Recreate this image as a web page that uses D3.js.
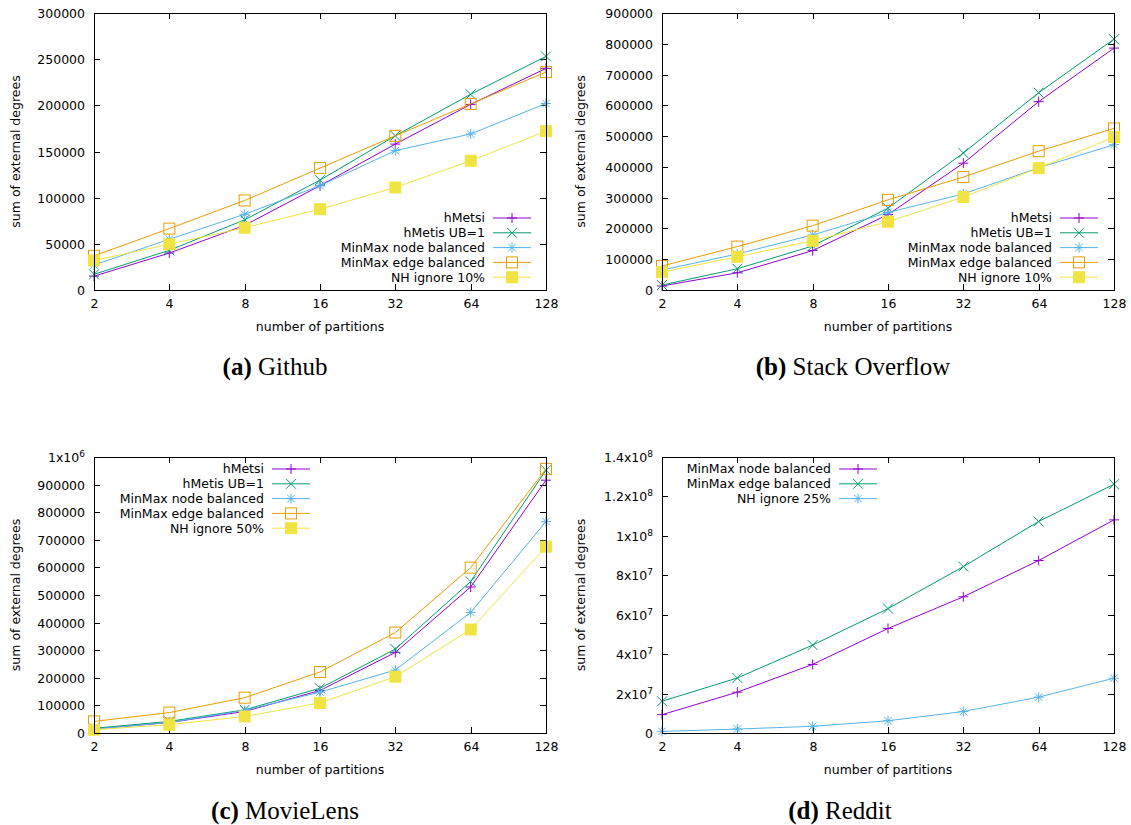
<!DOCTYPE html>
<html>
<head>
<meta charset="utf-8">
<script src="https://cdn.jsdelivr.net/npm/d3@7"></script>
<style>
  html, body { margin: 0; padding: 0; background: #fff; }
  svg { display: block; }
</style>
</head>
<body>
<svg id="chart" width="1131" height="825"></svg>
<script>
// ---------- data ----------
const partitions = [2, 4, 8, 16, 32, 64, 128];
const xTickLabels = ["2", "4", "8", "16", "32", "64", "128"];

// (a) Github
const githubHMetsi   = [15000, 40000, 70000, 113000, 158000, 201000, 240000];
const githubHMetisUB = [17000, 43000, 76000, 119000, 167000, 212000, 253000];
const githubNode     = [27000, 55000, 82000, 113000, 151000, 169000, 202000];
const githubEdge     = [37000, 66500, 97000, 132000, 167000, 201500, 236000];
const githubNH10     = [32000, 49500, 67500, 87500, 111000, 140000, 172000];
const githubYTicks   = [0, 50000, 100000, 150000, 200000, 250000, 300000];
const githubYLabels  = ["0", "50000", "100000", "150000", "200000", "250000", "300000"];

// (b) Stack Overflow
const stackHMetsi   = [13000, 56000, 128000, 245000, 412000, 612000, 786000];
const stackHMetisUB = [16000, 69000, 143000, 266000, 445000, 641000, 815000];
const stackNode     = [65000, 117000, 179000, 252000, 312000, 397000, 472000];
const stackEdge     = [78000, 141000, 209000, 293000, 367000, 451000, 525000];
const stackNH10     = [58000, 108000, 160000, 222000, 302000, 396000, 497000];
const stackYTicks   = [0, 100000, 200000, 300000, 400000, 500000, 600000, 700000, 800000, 900000];
const stackYLabels  = ["0", "100000", "200000", "300000", "400000", "500000", "600000", "700000", "800000", "900000"];

// (c) MovieLens
const movieHMetsi   = [15000, 38000, 78000, 154000, 292000, 529000, 916000];
const movieHMetisUB = [17000, 42000, 84000, 162000, 304000, 549000, 952000];
const movieNode     = [14000, 38000, 82000, 148000, 228000, 437000, 766000];
const movieEdge     = [42000, 74000, 128000, 221000, 364000, 599000, 957000];
const movieNH50     = [12000, 30000, 60000, 109000, 204000, 375000, 675000];
const movieYTicks   = [0, 100000, 200000, 300000, 400000, 500000, 600000, 700000, 800000, 900000, 1000000];
const movieYLabels  = ["0", "100000", "200000", "300000", "400000", "500000", "600000", "700000", "800000", "900000", "1x10^6"];

// (d) Reddit
const redditNode  = [9.3e6, 2.07e7, 3.48e7, 5.3e7, 6.91e7, 8.75e7, 1.081e8];
const redditEdge  = [1.61e7, 2.79e7, 4.46e7, 6.31e7, 8.44e7, 1.073e8, 1.262e8];
const redditNH25  = [0.8e6, 2.0e6, 3.4e6, 6.2e6, 1.09e7, 1.82e7, 2.78e7];
const redditYTicks  = [0, 2e7, 4e7, 6e7, 8e7, 1e8, 1.2e8, 1.4e8];
const redditYLabels = ["0", "2x10^7", "4x10^7", "6x10^7", "8x10^7", "1x10^8", "1.2x10^8", "1.4x10^8"];

// ---------- styles ----------
const C = { purple: "#9400d3", green: "#009e73", blue: "#56b4e9", orange: "#e69f00", yellow: "#f0e442" };
const FONT = "DejaVu Sans, sans-serif";
const FS = "12.5px";

const svg = d3.select("#chart");

function markerPath(type, x, y) {
  const s = 5;
  const p = d3.path();
  if (type === "plus" || type === "star") {
    p.moveTo(x - s, y); p.lineTo(x + s, y);
    p.moveTo(x, y - s); p.lineTo(x, y + s);
  }
  if (type === "cross" || type === "star") {
    const t = type === "star" ? s * 0.75 : s;
    p.moveTo(x - t, y - t); p.lineTo(x + t, y + t);
    p.moveTo(x - t, y + t); p.lineTo(x + t, y - t);
  }
  return p.toString();
}

function drawMarker(g, type, color, x, y) {
  if (type === "square" || type === "fsquare") {
    const s = 5.5;
    g.append("rect").attr("x", x - s).attr("y", y - s).attr("width", 2 * s).attr("height", 2 * s)
      .attr("fill", type === "fsquare" ? color : "none")
      .attr("stroke", color).attr("stroke-width", 1);
  } else {
    g.append("path").attr("d", markerPath(type, x, y))
      .attr("fill", "none").attr("stroke", color).attr("stroke-width", 1);
  }
}

function tickLabel(sel, label) {
  const parts = label.split("^");
  sel.text(parts[0]);
  if (parts.length > 1) {
    sel.append("tspan").attr("dy", "-0.55em").attr("font-size", "9px").text(parts[1]);
  }
}

function panel(cfg) {
  const { left, right, top, bottom } = cfg.frame;
  const x = d3.scaleLog().base(2).domain([2, 128]).range([left, right]);
  const y = d3.scaleLinear().domain(cfg.yDomain).range([bottom, top]);
  const g = svg.append("g");
  const tick = 6;

  // y ticks (inward, mirrored)
  cfg.yTicks.forEach((v, i) => {
    const yy = Math.round(y(v)) + 0.5;
    g.append("line").attr("x1", left).attr("x2", left + tick).attr("y1", yy).attr("y2", yy).attr("stroke", "#000");
    g.append("line").attr("x1", right).attr("x2", right - tick).attr("y1", yy).attr("y2", yy).attr("stroke", "#000");
    const t = g.append("text").attr("x", left - 9).attr("y", yy).attr("dy", "0.35em")
      .attr("text-anchor", "end").attr("font-family", FONT).attr("font-size", FS).attr("fill", "#000");
    tickLabel(t, cfg.yLabels[i]);
  });
  // x ticks
  partitions.forEach((v, i) => {
    const xx = Math.round(x(v)) + 0.5;
    g.append("line").attr("x1", xx).attr("x2", xx).attr("y1", bottom).attr("y2", bottom - tick).attr("stroke", "#000");
    g.append("line").attr("x1", xx).attr("x2", xx).attr("y1", top).attr("y2", top + tick).attr("stroke", "#000");
    g.append("text").attr("x", xx).attr("y", bottom + 14).attr("dy", "0.35em")
      .attr("text-anchor", "middle").attr("font-family", FONT).attr("font-size", FS).attr("fill", "#000")
      .text(xTickLabels[i]);
  });

  // series
  const line = d3.line().x(d => x(d[0])).y(d => y(d[1]));
  cfg.series.forEach(s => {
    const pts = partitions.map((p, i) => [p, s.values[i]]);
    g.append("path").attr("d", line(pts)).attr("fill", "none").attr("stroke", s.color).attr("stroke-width", 1);
    pts.forEach(d => drawMarker(g, s.marker, s.color, x(d[0]), y(d[1])));
  });

  // legend
  cfg.series.forEach((s, i) => {
    const ly = cfg.legend.y0 + i * cfg.legend.dy;
    g.append("text").attr("x", cfg.legend.textRight).attr("y", ly).attr("dy", "0.35em")
      .attr("text-anchor", "end").attr("font-family", FONT).attr("font-size", FS).attr("fill", "#000")
      .text(s.name);
    g.append("line").attr("x1", cfg.legend.lineX1).attr("x2", cfg.legend.lineX2).attr("y1", ly).attr("y2", ly)
      .attr("stroke", s.color).attr("stroke-width", 1);
    drawMarker(g, s.marker, s.color, (cfg.legend.lineX1 + cfg.legend.lineX2) / 2, ly);
  });

  // frame
  g.append("rect").attr("x", left + 0.5).attr("y", top + 0.5).attr("width", right - left).attr("height", bottom - top)
    .attr("fill", "none").attr("stroke", "#000").attr("stroke-width", 1);

  // axis labels
  g.append("text").attr("x", (left + right) / 2).attr("y", bottom + 37).attr("dy", "0.35em")
    .attr("text-anchor", "middle").attr("font-family", FONT).attr("font-size", FS).text("number of partitions");
  g.append("text").attr("transform", `translate(${cfg.yLabelX},${(top + bottom) / 2}) rotate(-90)`)
    .attr("dy", "0.35em").attr("text-anchor", "middle").attr("font-family", FONT).attr("font-size", FS)
    .text("sum of external degrees");

  // caption
  const cap = svg.append("text").attr("x", cfg.caption.x).attr("y", cfg.caption.y).attr("dy", "0.35em")
    .attr("text-anchor", "middle").attr("font-family", "Liberation Serif, serif").attr("font-size", "25px").attr("fill", "#000");
  cap.append("tspan").attr("font-weight", "bold").text(cfg.caption.tag);
  cap.append("tspan").text(" " + cfg.caption.name);
}

const fiveNames = ["hMetsi", "hMetis UB=1", "MinMax node balanced", "MinMax edge balanced"];

panel({
  frame: { left: 94, right: 546, top: 13, bottom: 290 },
  yDomain: [0, 300000], yTicks: githubYTicks, yLabels: githubYLabels, yLabelX: 16,
  series: [
    { name: fiveNames[0], values: githubHMetsi, color: C.purple, marker: "plus" },
    { name: fiveNames[1], values: githubHMetisUB, color: C.green, marker: "cross" },
    { name: fiveNames[2], values: githubNode, color: C.blue, marker: "star" },
    { name: fiveNames[3], values: githubEdge, color: C.orange, marker: "square" },
    { name: "NH ignore 10%", values: githubNH10, color: C.yellow, marker: "fsquare" }
  ],
  legend: { textRight: 485, lineX1: 493, lineX2: 531, y0: 218, dy: 14.8 },
  caption: { x: 275, y: 366, tag: "(a)", name: "Github" }
});

panel({
  frame: { left: 662, right: 1114, top: 13, bottom: 290 },
  yDomain: [0, 900000], yTicks: stackYTicks, yLabels: stackYLabels, yLabelX: 581,
  series: [
    { name: fiveNames[0], values: stackHMetsi, color: C.purple, marker: "plus" },
    { name: fiveNames[1], values: stackHMetisUB, color: C.green, marker: "cross" },
    { name: fiveNames[2], values: stackNode, color: C.blue, marker: "star" },
    { name: fiveNames[3], values: stackEdge, color: C.orange, marker: "square" },
    { name: "NH ignore 10%", values: stackNH10, color: C.yellow, marker: "fsquare" }
  ],
  legend: { textRight: 1052, lineX1: 1060, lineX2: 1098, y0: 218, dy: 14.8 },
  caption: { x: 853, y: 366, tag: "(b)", name: "Stack Overflow" }
});

panel({
  frame: { left: 94, right: 546, top: 457, bottom: 733 },
  yDomain: [0, 1000000], yTicks: movieYTicks, yLabels: movieYLabels, yLabelX: 16,
  series: [
    { name: fiveNames[0], values: movieHMetsi, color: C.purple, marker: "plus" },
    { name: fiveNames[1], values: movieHMetisUB, color: C.green, marker: "cross" },
    { name: fiveNames[2], values: movieNode, color: C.blue, marker: "star" },
    { name: fiveNames[3], values: movieEdge, color: C.orange, marker: "square" },
    { name: "NH ignore 50%", values: movieNH50, color: C.yellow, marker: "fsquare" }
  ],
  legend: { textRight: 264, lineX1: 272, lineX2: 310, y0: 469, dy: 14.8 },
  caption: { x: 285, y: 810, tag: "(c)", name: "MovieLens" }
});

panel({
  frame: { left: 662, right: 1114, top: 457, bottom: 733 },
  yDomain: [0, 1.4e8], yTicks: redditYTicks, yLabels: redditYLabels, yLabelX: 581,
  series: [
    { name: "MinMax node balanced", values: redditNode, color: C.purple, marker: "plus" },
    { name: "MinMax edge balanced", values: redditEdge, color: C.green, marker: "cross" },
    { name: "NH ignore 25%", values: redditNH25, color: C.blue, marker: "star" }
  ],
  legend: { textRight: 831, lineX1: 839, lineX2: 877, y0: 469, dy: 14.8 },
  caption: { x: 840, y: 810, tag: "(d)", name: "Reddit" }
});
</script>
</body>
</html>
